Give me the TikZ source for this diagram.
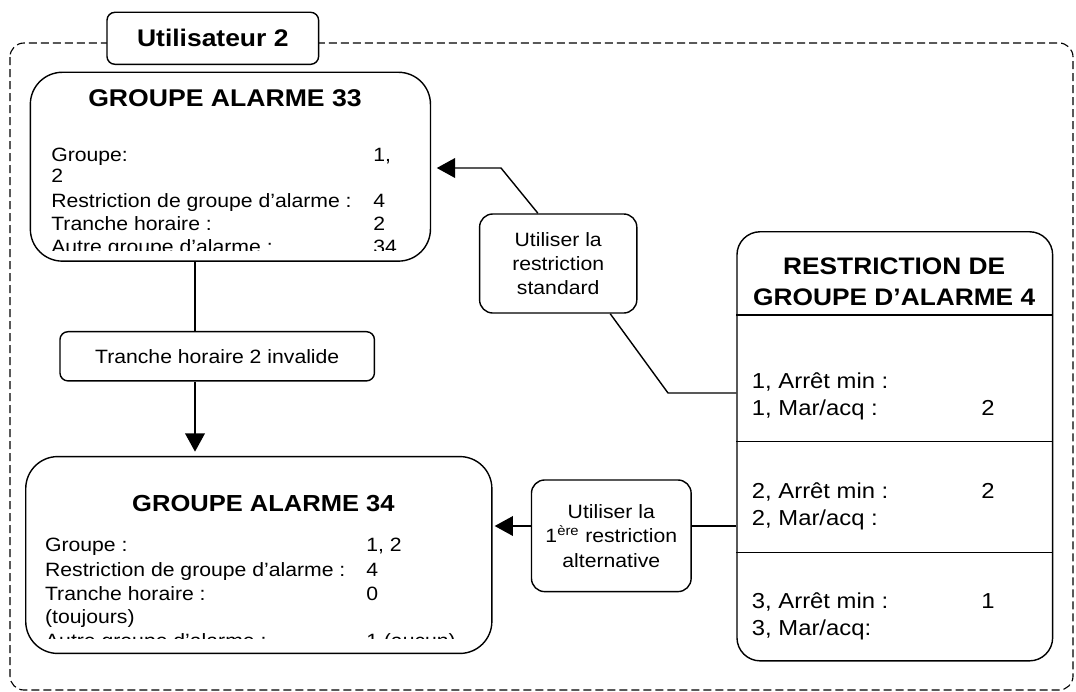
\documentclass[tikz,border=0pt]{standalone}
\usepackage{fontspec}
\setmainfont{Liberation Sans}[FakeStretch=1.1]
\usetikzlibrary{arrows.meta}

\begin{document}
\begin{tikzpicture}[
        x=0.025cm, y=-0.025cm,
        bigbox/.style={rectangle, draw, line width=1pt, fill=white, rounded corners=0.8cm},
        callout/.style={rectangle, draw, line width=1pt, fill=white, rounded corners=0.33cm, align=center, font=\fontsize{13.7}{17.3}\selectfont},
        titletext/.style={anchor=base, inner sep=0pt, font=\bfseries\fontsize{17.2}{22}\selectfont},
        rowtext/.style={anchor=base west, inner sep=0pt, font=\fontsize{13.7}{17}\selectfont},
        link/.style={line width=1pt},
        arrow/.style={line width=1pt, -{Triangle[length=13pt, width=14pt]}},
      ]
        \useasboundingbox (0,0) rectangle (1076,691);

        \draw[line width=0.8pt, dash pattern=on 0.2cm off 0.1cm, rounded corners=0.35cm] (10,43) rectangle (1073,690);

        \node[callout, rounded corners=0.2cm, minimum width=5.29cm, minimum height=1.3cm, font=\bfseries\fontsize{17.1}{22}\selectfont] (user) at (212.8,38.3) {Utilisateur 2};

        \node[bigbox, minimum width=10cm, minimum height=4.72cm]    (ga33)    at (230.4,166.7) {};
        \node[callout, rounded corners=0.2cm, minimum width=7.86cm, minimum height=1.23cm] (tranche) at (217.2,356.3) {Tranche horaire 2 invalide};
        \node[bigbox, minimum width=11.65cm, minimum height=4.92cm] (ga34)    at (258.8,555) {};
        \node[bigbox, rounded corners=0.58cm, minimum width=7.89cm, minimum height=10.725cm] (rg4) at (894.8,446.3) {};
        \node[callout, minimum width=3.93cm, minimum height=2.475cm] (std) at (558.2,263.5) {Utiliser la\\restriction\\standard};
        \node[callout, minimum width=3.99cm, minimum height=2.79cm]  (alt) at (611.3,535.8) {Utiliser la\\1\textsuperscript{ère} restriction\\alternative};

        \node[titletext] (ga33t) at (225,106) {GROUPE ALARME 33};
        \begin{scope}
          \clip (31,120) rectangle (429,250);
          \node[rowtext] (ga33a)  at (51,161.7)  {Groupe:};
          \node[rowtext] (ga33av) at (373,161.7) {1,};
          \node[rowtext] (ga33b)  at (51,182)    {2};
          \node[rowtext] (ga33c)  at (51,207.3)  {Restriction de groupe d’alarme :};
          \node[rowtext] (ga33cv) at (373,207.3) {4};
          \node[rowtext] (ga33d)  at (51,230)    {Tranche horaire :};
          \node[rowtext] (ga33dv) at (373,230)   {2};
          \node[rowtext] (ga33e)  at (51,253)    {Autre groupe d’alarme :};
          \node[rowtext] (ga33ev) at (373,253)   {34};
        \end{scope}

        \node[titletext, font=\bfseries\fontsize{16.5}{22}\selectfont] (ga34t) at (263.4,511.7) {GROUPE ALARME 34};
        \begin{scope}
          \clip (27,520) rectangle (490,638.3);
          \node[rowtext] (ga34a)  at (44.8,551.7) {Groupe :};
          \node[rowtext] (ga34av) at (366,551.7)  {1, 2};
          \node[rowtext] (ga34b)  at (44.8,576.7) {Restriction de groupe d’alarme :};
          \node[rowtext] (ga34bv) at (366,576.7)  {4};
          \node[rowtext] (ga34c)  at (44.8,600)   {Tranche horaire :};
          \node[rowtext] (ga34cv) at (366,600)    {0};
          \node[rowtext] (ga34d)  at (44.8,623.5) {(toujours)};
          \node[rowtext] (ga34e)  at (44.8,647)   {Autre groupe d’alarme :};
          \node[rowtext] (ga34ev) at (366,647)    {1 (aucun)};
        \end{scope}

        \node[titletext, font=\bfseries\fontsize{17}{22}\selectfont] (rg4t1) at (894.2,274) {RESTRICTION DE};
        \node[titletext, font=\bfseries\fontsize{17}{22}\selectfont] (rg4t2) at (894.2,305) {GROUPE D’ALARME 4};
        \foreach \sy in {315,441.7,552.3}
          \draw[link] (rg4.west |- 0,\sy) -- (rg4.east |- 0,\sy);

        \node[rowtext, font=\fontsize{15.4}{19}\selectfont] (rg4a)  at (751.7,388) {1, Arrêt min :};
        \node[rowtext, font=\fontsize{15.4}{19}\selectfont] (rg4b)  at (751.7,415) {1, Mar/acq :};
        \node[rowtext, font=\fontsize{15.4}{19}\selectfont] (rg4bv) at (981,415)   {2};
        \node[rowtext, font=\fontsize{15.4}{19}\selectfont] (rg4c)  at (751.7,498) {2, Arrêt min :};
        \node[rowtext, font=\fontsize{15.4}{19}\selectfont] (rg4cv) at (981,498)   {2};
        \node[rowtext, font=\fontsize{15.4}{19}\selectfont] (rg4d)  at (751.7,525) {2, Mar/acq :};
        \node[rowtext, font=\fontsize{15.4}{19}\selectfont] (rg4e)  at (751.7,608) {3, Arrêt min :};
        \node[rowtext, font=\fontsize{15.4}{19}\selectfont] (rg4ev) at (981,608)   {1};
        \node[rowtext, font=\fontsize{15.4}{19}\selectfont] (rg4f)  at (751.7,635) {3, Mar/acq:};

        \coordinate (vx) at (195,300);
        \coordinate (s1) at (668,393);
        \coordinate (s2) at (501,168);
        \coordinate (a1) at (720,526);

        \draw[link] (ga33.south -| vx) -- (tranche.north -| vx);
        \draw[arrow, shorten >=3pt] (tranche.south -| vx) -- (ga34.north -| vx);
        \draw[link] (rg4.west |- s1) -- (s1) -- (std.-44);
        \draw[arrow, shorten >=4pt] (std.112) -- (s2) -- (ga33.east |- s2);
        \draw[link] (rg4.west |- a1) -- (alt.east |- a1);
        \draw[arrow, shorten >=1.5pt] (alt.west |- a1) -- (ga34.east |- a1);
      \end{tikzpicture}
\end{document}
